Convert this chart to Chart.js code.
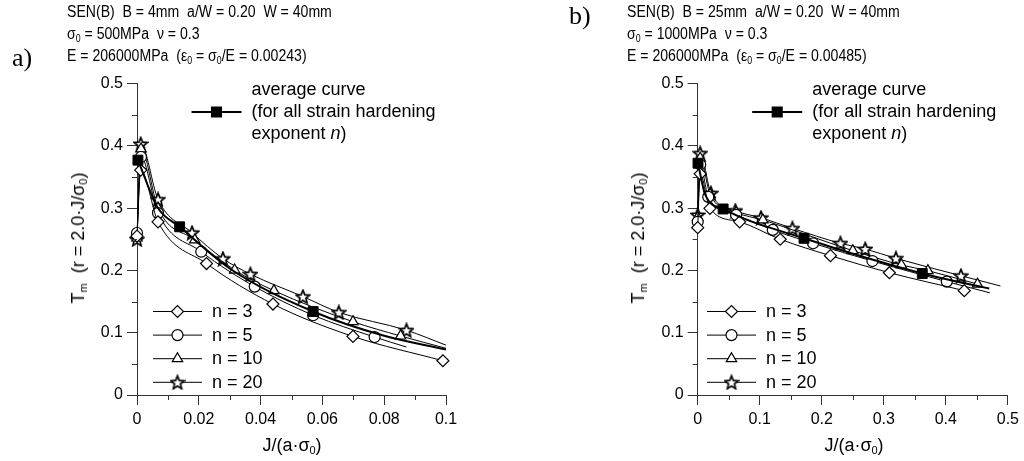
<!DOCTYPE html>
<html>
<head>
<meta charset="utf-8">
<script src="https://cdn.jsdelivr.net/npm/chart.js@4/dist/chart.umd.min.js"></script>
<style>
  html, body { margin: 0; padding: 0; background: #fff; }
  #wrap { position: relative; width: 1024px; height: 461px; overflow: hidden; font-family: "Liberation Sans", Arial, sans-serif; color: #000; }
  .cv { position: absolute; top: 0; width: 512px; height: 461px; }
  .hdr { position: absolute; font-size: 16px; line-height: 22px; white-space: pre; transform: scaleX(0.88); transform-origin: 0 0; }
  .tag { position: absolute; font-family: "Liberation Serif", "Times New Roman", serif; font-size: 26px; line-height: 30px; }
  .xt { position: absolute; font-size: 18px; line-height: 22px; white-space: pre; transform: translateX(-50%); }
  .yt { position: absolute; font-size: 18px; line-height: 22px; white-space: pre; transform: translate(-50%, -50%) rotate(-90deg); }
  sub { font-size: 10px; vertical-align: -3px; line-height: 0; }
  .xt sub, .yt sub { font-size: 11px; }
</style>
</head>
<body>
<div id="wrap">
  <div class="cv" style="left:0"><canvas id="chartA" width="512" height="461"></canvas></div>
  <div class="cv" style="left:512px"><canvas id="chartB" width="512" height="461"></canvas></div>

  <div class="tag" style="left:12px;top:43px">a)</div>
  <div class="hdr" style="left:67px;top:1px">SEN(B)  B = 4mm  a/W = 0.20  W = 40mm
σ<sub>0</sub> = 500MPa  ν = 0.3
E = 206000MPa  (ε<sub>0</sub> = σ<sub>0</sub>/E = 0.00243)</div>

  <div class="tag" style="left:569px;top:1px">b)</div>
  <div class="hdr" style="left:627px;top:1px">SEN(B)  B = 25mm  a/W = 0.20  W = 40mm
σ<sub>0</sub> = 1000MPa  ν = 0.3
E = 206000MPa  (ε<sub>0</sub> = σ<sub>0</sub>/E = 0.00485)</div>

  <div class="xt" style="left:292px;top:434px">J/(a·σ<sub>0</sub>)</div>
  <div class="xt" style="left:854px;top:434px">J/(a·σ<sub>0</sub>)</div>
  <div class="yt" style="left:78px;top:238px">T<sub>m</sub>  (r = 2.0·J/σ<sub>0</sub>)</div>
  <div class="yt" style="left:638px;top:238px">T<sub>m</sub>  (r = 2.0·J/σ<sub>0</sub>)</div>
</div>

<script>
// axis ticks
const yTicks = [0, 0.1, 0.2, 0.3, 0.4, 0.5];
const yMinor = [0.05, 0.15, 0.25, 0.35, 0.45];
const xTicksA = [0, 0.02, 0.04, 0.06, 0.08, 0.1];
const xMinorA = [0.01, 0.03, 0.05, 0.07, 0.09];
const xTicksB = [0, 0.1, 0.2, 0.3, 0.4, 0.5];
const xMinorB = [0.05, 0.15, 0.25, 0.35, 0.45];

const seriesLabels = ['n = 3', 'n = 5', 'n = 10', 'n = 20'];

// ---- chart a) B = 4mm : marked points, then line-only points ----
const aN3X  = [0, 0.0012, 0.0068, 0.0225, 0.044, 0.0699, 0.099];
const aN3Y  = [0.255, 0.361, 0.278, 0.211, 0.146, 0.094, 0.055];
const aN3LX = [];
const aN3LY = [];

const aN5X  = [0, 0.0013, 0.0068, 0.0208, 0.0381, 0.057, 0.0769];
const aN5Y  = [0.26, 0.382, 0.292, 0.230, 0.174, 0.128, 0.093];
const aN5LX = [0.0872];
const aN5LY = [0.077];

const aN10X  = [0, 0.0013, 0.0068, 0.0187, 0.0316, 0.0443, 0.0699, 0.0853];
const aN10Y  = [0.252, 0.395, 0.300, 0.249, 0.2006, 0.1675, 0.1177, 0.0947];
const aN10LX = [0.1];
const aN10LY = [0.075];

const aN20X  = [0, 0.0012, 0.0068, 0.0178, 0.0278, 0.0367, 0.0537, 0.0653, 0.0872];
const aN20Y  = [0.25, 0.403, 0.314, 0.2605, 0.219, 0.194, 0.158, 0.1327, 0.104];
const aN20LX = [0.1];
const aN20LY = [0.080];

const aAvgX  = [0.0003, 0.0138, 0.057];
const aAvgY  = [0.377, 0.270, 0.134];
const aAvgLX = [0.0068, 0.03, 0.08, 0.1];
const aAvgLY = [0.300, 0.203, 0.095, 0.073];

// ---- chart b) B = 25mm ----
const bN3X  = [0, 0.004, 0.0197, 0.0676, 0.133, 0.214, 0.309, 0.4297];
const bN3Y  = [0.2686, 0.355, 0.2996, 0.278, 0.250, 0.2236, 0.1963, 0.1675];
const bN3LX = [];
const bN3LY = [];

const bN5X  = [0, 0.004, 0.017, 0.062, 0.121, 0.186, 0.2817, 0.4015];
const bN5Y  = [0.278, 0.37, 0.318, 0.289, 0.265, 0.2435, 0.215, 0.182];
const bN5LX = [0.471];
const bN5LY = [0.164];

const bN10X  = [0, 0.004, 0.02, 0.062, 0.105, 0.25, 0.3284, 0.371, 0.451];
const bN10Y  = [0.285, 0.38, 0.322, 0.293, 0.281, 0.2317, 0.2087, 0.1996, 0.178];
const bN10LX = [];
const bN10LY = [];

const bN20X  = [0, 0.004, 0.0213, 0.0607, 0.102, 0.1527, 0.230, 0.270, 0.3195, 0.4243];
const bN20Y  = [0.289, 0.388, 0.324, 0.296, 0.2846, 0.2675, 0.2435, 0.2343, 0.2194, 0.1915];
const bN20LX = [0.488];
const bN20LY = [0.175];

const bAvgX  = [0.0005, 0.041, 0.1714, 0.362];
const bAvgY  = [0.372, 0.2986, 0.2515, 0.195];
const bAvgLX = [0.012, 0.47];
const bAvgLY = [0.322, 0.171];

// five point star marker (Chart.js 'star' is an asterisk)
function makeStar(size) {
  const c = document.createElement('canvas');
  c.width = size; c.height = size;
  const g = c.getContext('2d');
  const cx = size / 2, cy = size / 2 + 0.7, R = size / 2 - 1, r = R * 0.45;
  g.beginPath();
  for (let i = 0; i < 10; i++) {
    const a = -Math.PI / 2 + i * Math.PI / 5;
    const rr = i % 2 ? r : R;
    g.lineTo(cx + rr * Math.cos(a), cy + rr * Math.sin(a));
  }
  g.closePath();
  g.fillStyle = '#fff'; g.fill();
  g.lineWidth = 1.7; g.strokeStyle = '#000'; g.stroke();
  return c;
}
const starImg = makeStar(16);

const markerStyles = [
  { pointStyle: 'rectRot', radius: 6 },
  { pointStyle: 'circle', radius: 5.5 },
  { pointStyle: 'triangle', radius: 6 },
  { pointStyle: starImg, radius: 7 }
];

function pts(mx, my, lx, ly) {
  const out = mx.map((x, i) => ({ x: x, y: my[i], m: true }))
    .concat(lx.map((x, i) => ({ x: x, y: ly[i], m: false })));
  return out.sort((p, q) => p.x - q.x);
}

function buildDatasets(series, avg) {
  const sets = [{
    label: 'average curve',
    data: pts(avg[0], avg[1], avg[2], avg[3]),
    borderColor: '#000', borderWidth: 2,
    pointStyle: 'rect', pointBackgroundColor: '#000', pointBorderColor: '#000', pointBorderWidth: 1,
    pointRadius: c => (c.raw && c.raw.m ? 7 : 0),
    cubicInterpolationMode: 'monotone', clip: false
  }];
  series.forEach((s, i) => {
    const st = markerStyles[i];
    sets.push({
      label: seriesLabels[i],
      data: pts(s[0], s[1], s[2], s[3]),
      borderColor: '#000', borderWidth: 1,
      pointStyle: st.pointStyle, pointBackgroundColor: '#fff', pointBorderColor: '#000', pointBorderWidth: 1.2,
      pointRadius: c => (c.raw && c.raw.m ? st.radius : 0),
      legendRadius: st.radius,
      cubicInterpolationMode: 'monotone', clip: false
    });
  });
  return sets;
}

function drawMark(ctx, style, radius, x, y, fill) {
  if (Chart.helpers && Chart.helpers.drawPoint) {
    ctx.save();
    ctx.fillStyle = fill; ctx.strokeStyle = '#000'; ctx.lineWidth = 1.2;
    Chart.helpers.drawPoint(ctx, { pointStyle: style, radius: radius, borderWidth: 1.2, rotation: 0 }, x, y);
    ctx.restore();
    return;
  }
  if (style instanceof HTMLCanvasElement) {
    ctx.drawImage(style, x - style.width / 2, y - style.height / 2);
    return;
  }
  ctx.save(); ctx.fillStyle = fill; ctx.strokeStyle = '#000'; ctx.lineWidth = 1.2;
  ctx.beginPath();
  if (style === 'circle') ctx.arc(x, y, radius, 0, Math.PI * 2);
  else if (style === 'rect') { const s = radius * Math.SQRT1_2; ctx.rect(x - s, y - s, 2 * s, 2 * s); }
  else if (style === 'rectRot') { ctx.moveTo(x - radius, y); ctx.lineTo(x, y - radius); ctx.lineTo(x + radius, y); ctx.lineTo(x, y + radius); ctx.closePath(); }
  else if (style === 'triangle') { ctx.moveTo(x, y - radius); ctx.lineTo(x + radius * 0.866, y + radius * 0.5); ctx.lineTo(x - radius * 0.866, y + radius * 0.5); ctx.closePath(); }
  ctx.fill(); ctx.stroke(); ctx.restore();
}

const LEG_FONT = '18px "Liberation Sans", Arial, sans-serif';

// minor ticks and the two in-plot legends
const extras = {
  id: 'extras',
  afterDraw(chart, args, opts) {
    const ctx = chart.ctx, area = chart.chartArea;
    const xs = chart.scales.x, ys = chart.scales.y;
    ctx.save();
    ctx.strokeStyle = '#333'; ctx.lineWidth = 1;
    ctx.beginPath();
    opts.xMinor.forEach(v => {
      const px = Math.round(xs.getPixelForValue(v)) + 0.5;
      ctx.moveTo(px, area.bottom); ctx.lineTo(px, area.bottom + 5);
    });
    yMinor.forEach(v => {
      const py = Math.round(ys.getPixelForValue(v)) + 0.5;
      ctx.moveTo(area.left - 5, py); ctx.lineTo(area.left, py);
    });
    ctx.stroke();

    ctx.font = LEG_FONT;
    ctx.fillStyle = '#000';
    ctx.textBaseline = 'middle';
    const ds = chart.data.datasets;

    // average curve legend
    const ax = area.left + 54.5, ay = 112;
    ctx.strokeStyle = '#000'; ctx.lineWidth = 2;
    ctx.beginPath(); ctx.moveTo(ax, ay); ctx.lineTo(ax + 50, ay); ctx.stroke();
    drawMark(ctx, 'rect', 7, ax + 25, ay, '#000');
    const tx = ax + 60;
    ctx.fillText('average curve', tx, ay - 22);
    ctx.fillText('(for all strain hardening', tx, ay);
    ctx.fillText('exponent ', tx, ay + 22);
    let w = ctx.measureText('exponent ').width;
    ctx.font = 'italic ' + LEG_FONT;
    ctx.fillText('n', tx + w, ay + 22);
    w += ctx.measureText('n').width;
    ctx.font = LEG_FONT;
    ctx.fillText(')', tx + w, ay + 22);

    // n-series legend
    const lx = area.left + opts.seriesDx;
    ds.slice(1).forEach((d, i) => {
      const y = 311 + i * 23.6;
      ctx.strokeStyle = '#000'; ctx.lineWidth = 1;
      ctx.beginPath(); ctx.moveTo(lx, y + 0.5); ctx.lineTo(lx + 49, y + 0.5); ctx.stroke();
      drawMark(ctx, d.pointStyle, d.legendRadius, lx + 24.5, y + 0.5, '#fff');
      ctx.fillText(d.label, lx + 59, y + 1);
    });
    ctx.restore();
  }
};

Chart.defaults.font.family = '"Liberation Sans", Arial, sans-serif';
Chart.defaults.font.size = 16;
Chart.defaults.color = '#000';

function makeChart(id, datasets, xTicks, xMinor, xMax, pad, seriesDx) {
  return new Chart(document.getElementById(id), {
    type: 'line',
    data: { datasets: datasets },
    plugins: [extras],
    options: {
      responsive: false,
      animation: false,
      events: [],
      layout: { padding: pad },
      plugins: {
        legend: { display: false },
        tooltip: { enabled: false },
        extras: { xMinor: xMinor, seriesDx: seriesDx }
      },
      scales: {
        x: {
          type: 'linear', min: 0, max: xMax,
          afterBuildTicks: s => { s.ticks = xTicks.map(v => ({ value: v })); },
          afterFit: s => { s.height = 66; },
          ticks: { autoSkip: false, maxRotation: 0, padding: 5, callback: v => String(v) },
          grid: { drawOnChartArea: false, drawTicks: true, tickLength: 10, color: '#333' },
          border: { display: true, color: '#333', width: 1 }
        },
        y: {
          type: 'linear', min: 0, max: 0.5,
          afterBuildTicks: s => { s.ticks = yTicks.map(v => ({ value: v })); },
          afterFit: s => { s.width = 60; },
          ticks: { autoSkip: false, padding: 4, callback: v => String(v) },
          grid: { drawOnChartArea: false, drawTicks: true, tickLength: 10, color: '#333' },
          border: { display: true, color: '#333', width: 1 }
        }
      }
    }
  });
}

makeChart('chartA',
  buildDatasets(
    [[aN3X, aN3Y, aN3LX, aN3LY], [aN5X, aN5Y, aN5LX, aN5LY], [aN10X, aN10Y, aN10LX, aN10LY], [aN20X, aN20Y, aN20LX, aN20LY]],
    [aAvgX, aAvgY, aAvgLX, aAvgLY]),
  xTicksA, xMinorA, 0.1,
  { left: 77, right: 66, top: 83.5, bottom: 0 }, 16);

makeChart('chartB',
  buildDatasets(
    [[bN3X, bN3Y, bN3LX, bN3LY], [bN5X, bN5Y, bN5LX, bN5LY], [bN10X, bN10Y, bN10LX, bN10LY], [bN20X, bN20Y, bN20LX, bN20LY]],
    [bAvgX, bAvgY, bAvgLX, bAvgLY]),
  xTicksB, xMinorB, 0.5,
  { left: 125.7, right: 13.3, top: 83.5, bottom: 0 }, 9.3);
</script>
</body>
</html>
